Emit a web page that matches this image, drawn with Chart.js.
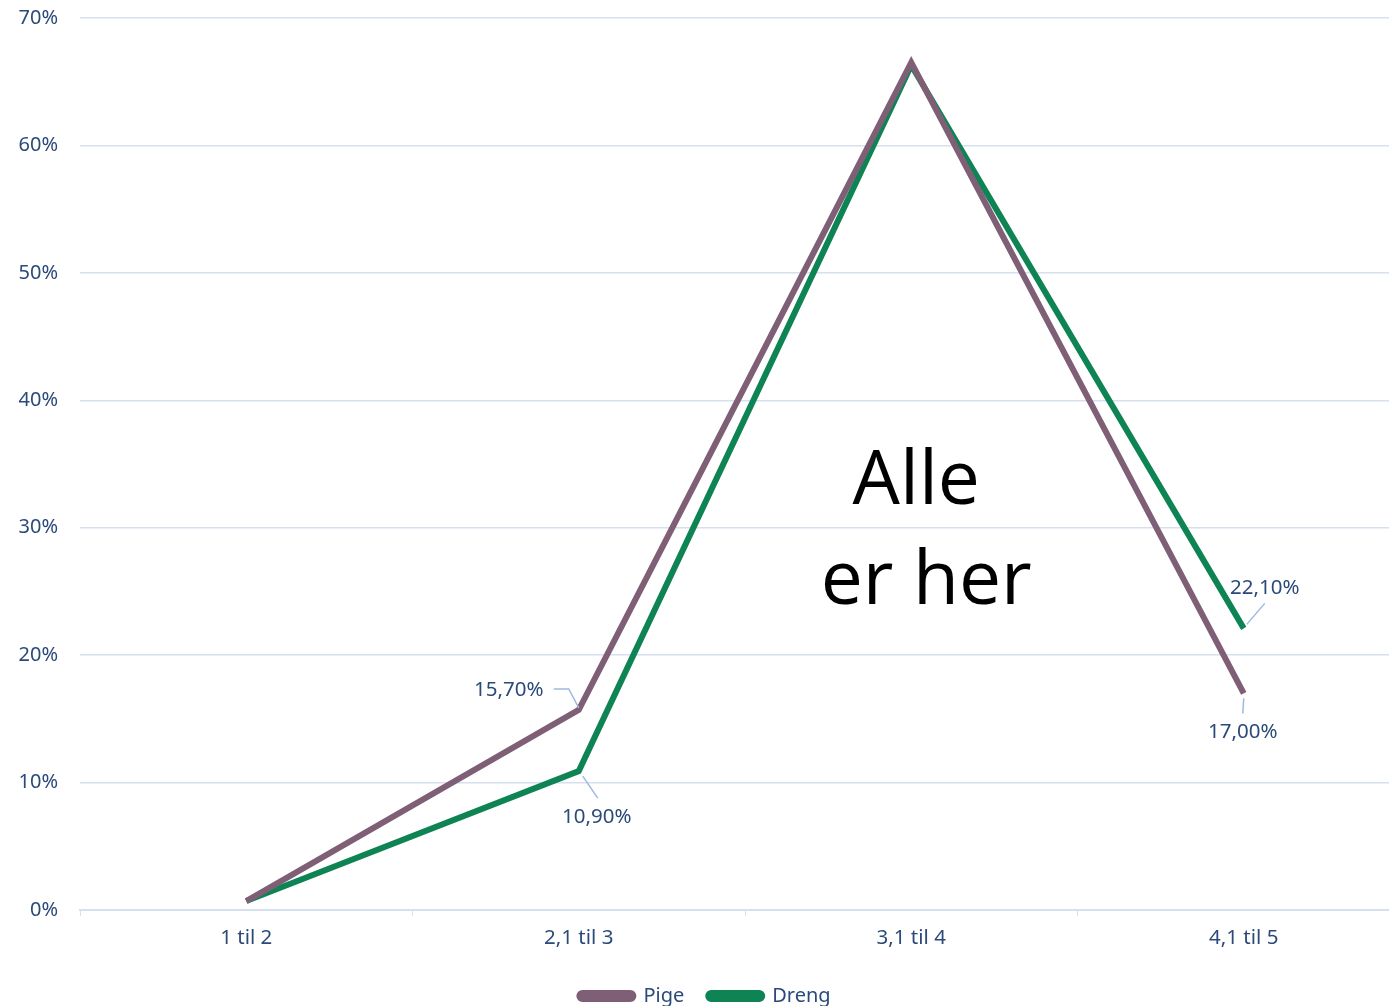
<!DOCTYPE html>
<html>
<head>
<meta charset="utf-8">
<script src="https://cdn.jsdelivr.net/npm/chart.js@4.4.1/dist/chart.umd.min.js"></script>
<style>
  html, body { margin: 0; padding: 0; background: #fff; overflow: hidden; }
  #wrap { width: 1410px; height: 1006px; }
</style>
</head>
<body>
<div id="wrap"><canvas id="chart" width="1410" height="1006"></canvas></div>
<script>
const categories = ['1 til 2', '2,1 til 3', '3,1 til 4', '4,1 til 5'];
const pige = [0.7, 15.7, 66.5, 17.0];
const dreng = [0.7, 10.9, 66.3, 22.1];
const yTicks = [0, 10, 20, 30, 40, 50, 60, 70];

// which points carry a value label, and where the label sits (px offset from point)
const labelSpots = {
    0: { 1: { dx: -70, dy: -20, lead: [[-25, -21], [-10, -21], [0, -2]] },
         3: { dx: -1, dy: 39, lead: [[0, 5], [-1, 20]] } },
    1: { 1: { dx: 18, dy: 46, lead: [[4, 5], [19, 27]] },
         3: { dx: 21, dy: -40, lead: [[3, -4], [21, -25]] } }
};

const fmt = v => v.toFixed(2).replace('.', ',') + '%';
const textBlue = '#2B4A7A';
const font = '"Noto Sans", sans-serif';

const valueLabels = {
    id: 'valueLabels',
    afterDatasetsDraw(chart) {
        const ctx = chart.ctx;
        ctx.save();
        ctx.font = '20.5px ' + font;
        ctx.fillStyle = textBlue;
        ctx.textAlign = 'center';
        ctx.textBaseline = 'middle';
        chart.data.datasets.forEach((ds, i) => {
            const spots = labelSpots[i] || {};
            const meta = chart.getDatasetMeta(i);
            Object.keys(spots).forEach(k => {
                const pt = meta.data[k];
                const s = spots[k];
                ctx.strokeStyle = '#9DB9E0';
                ctx.lineWidth = 1.5;
                ctx.beginPath();
                s.lead.forEach((p, j) => {
                    if (j === 0) ctx.moveTo(pt.x + p[0], pt.y + p[1]);
                    else ctx.lineTo(pt.x + p[0], pt.y + p[1]);
                });
                ctx.stroke();
                ctx.fillText(fmt(ds.data[k]), pt.x + s.dx, pt.y + s.dy);
            });
        });
        ctx.restore();
    }
};

const bigText = {
    id: 'bigText',
    afterDraw(chart) {
        const ctx = chart.ctx;
        const a = chart.chartArea;
        ctx.save();
        ctx.font = '75px "Open Sans", sans-serif';
        ctx.fillStyle = '#000';
        ctx.textAlign = 'center';
        ctx.textBaseline = 'alphabetic';
        const xs = chart.scales.x.getPixelForValue(2);
        ctx.fillText('Alle', xs + 5, a.top + 486);
        ctx.fillText('er her', xs + 15, a.top + 586);
        ctx.restore();
    }
};

new Chart(document.getElementById('chart'), {
    type: 'line',
    data: {
        labels: categories,
        datasets: [{
            label: 'Pige',
            data: pige,
            borderColor: '#7F5F76',
            backgroundColor: '#7F5F76',
            borderWidth: 6,
            pointRadius: 0,
            tension: 0
        }, {
            label: 'Dreng',
            data: dreng,
            borderColor: '#0E8454',
            backgroundColor: '#0E8454',
            borderWidth: 6,
            pointRadius: 0,
            tension: 0
        }]
    },
    options: {
        responsive: false,
        animation: false,
        layout: { padding: { top: 18, right: 0, bottom: -10, left: 0 } },
        plugins: {
            legend: {
                position: 'bottom',
                labels: {
                    boxWidth: 54,
                    boxHeight: 6,
                    useBorderRadius: true,
                    borderRadius: 3,
                    color: textBlue,
                    font: { family: font, size: 20 },
                    padding: 24
                }
            },
            tooltip: { enabled: false }
        },
        scales: {
            x: {
                offset: true,
                grid: { offset: true, drawOnChartArea: false, drawTicks: true, tickLength: 6, color: '#D6E0EF' },
                border: { color: '#D6E0EF', width: 2 },
                ticks: { color: textBlue, font: { family: font, size: 20.5 }, padding: 10 },
                afterFit(scale) { scale.height = 52; }
            },
            y: {
                min: 0,
                max: 70,
                afterBuildTicks(scale) { scale.ticks = yTicks.map(v => ({ value: v })); },
                grid: { color: '#D6E0EF', lineWidth: 1.5, drawTicks: false },
                border: { display: false },
                ticks: {
                    color: textBlue,
                    font: { family: font, size: 20 },
                    padding: 22,
                    callback: v => v + '%'
                },
                afterFit(scale) {
                    scale.width = 80;
                    scale.paddingTop = 0;
                    scale.paddingBottom = 0;
                }
            }
        }
    },
    plugins: [valueLabels, bigText]
});
</script>
</body>
</html>
